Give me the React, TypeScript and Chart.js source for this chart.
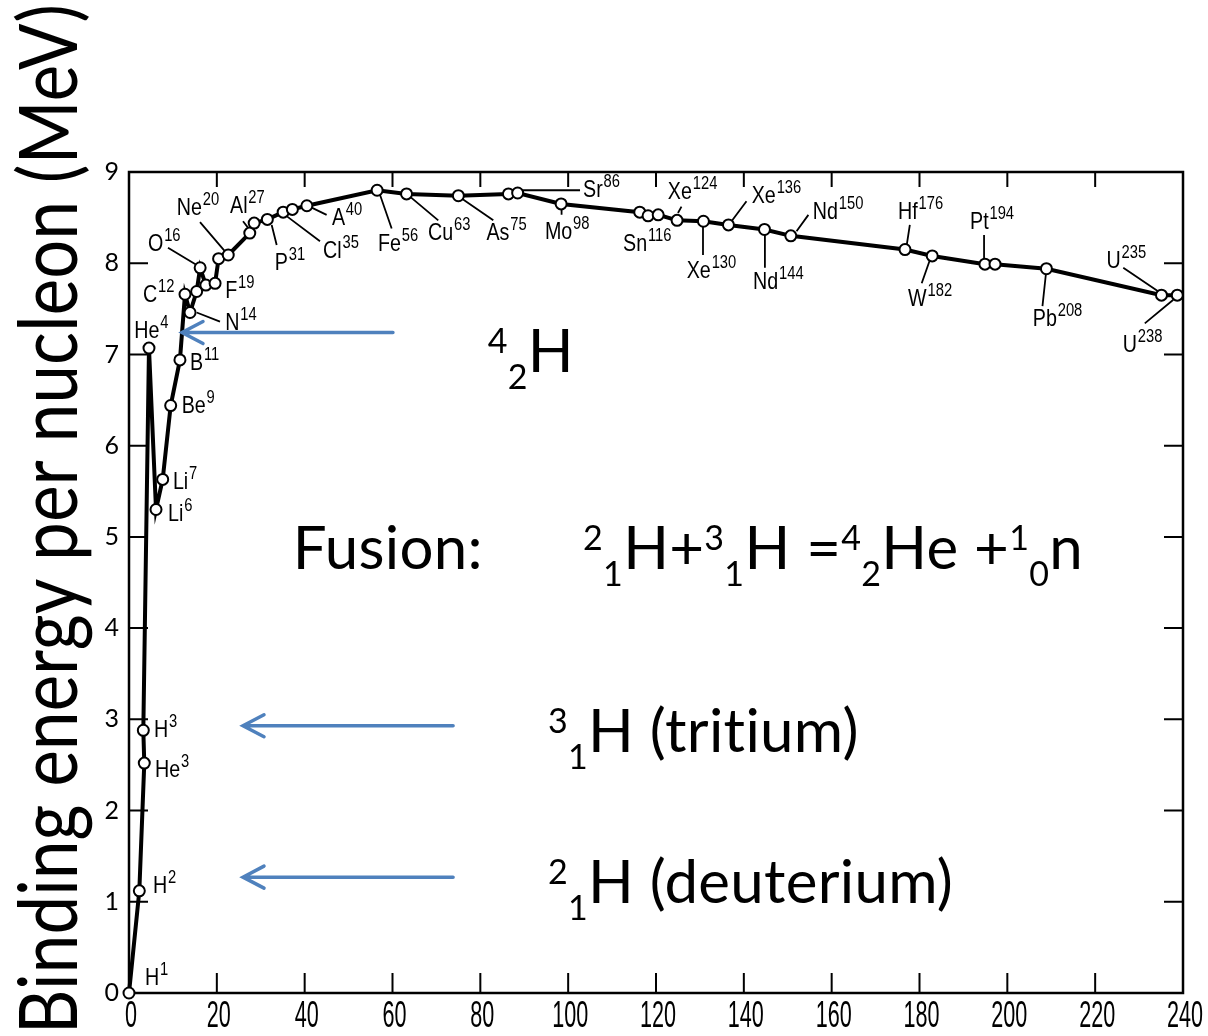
import React, { useEffect, useRef } from 'react';
import { Chart, registerables } from 'chart.js';

Chart.register(...registerables);

// ---------- data (mass number A, binding energy per nucleon in MeV) ----------
const massNumbers = [0, 2.35, 3.48, 3.26, 4.55, 6.15, 7.67, 9.49, 11.6, 12.75, 13.9, 15.4, 16.2, 17.5, 19.6, 20.4, 22.6, 27.5, 28.5, 31.5, 35.1, 37.2, 40.5, 56.5, 63.2, 75.0, 86.4, 88.5, 98.4, 116.3, 118.2, 120.5, 124.8, 130.8, 136.5, 144.7, 150.7, 176.7, 182.9, 194.9, 197.2, 208.9, 235.1, 238.7];
const bindingEnergy = [0, 1.12, 2.52, 2.88, 7.07, 5.30, 5.63, 6.44, 6.94, 7.66, 7.46, 7.69, 7.95, 7.76, 7.78, 8.05, 8.09, 8.33, 8.44, 8.48, 8.56, 8.59, 8.63, 8.80, 8.76, 8.74, 8.76, 8.77, 8.65, 8.56, 8.52, 8.53, 8.47, 8.46, 8.42, 8.37, 8.30, 8.15, 8.08, 7.99, 7.99, 7.94, 7.65, 7.65];

const X_TICK_LABELS = ['0', '20', '40', '60', '80', '100', '120', '140', '160', '180', '200', '220', '240'];
const Y_TICK_LABELS = ['0', '1', '2', '3', '4', '5', '6', '7', '8', '9'];

const Y_TITLE = 'Binding energy per nucleon (MeV)';

// nuclide labels
const labelElements = ['H', 'H', 'H', 'He', 'He', 'Li', 'Li', 'Be', 'B', 'C', 'N', 'O', 'F', 'Ne', 'Al', 'P', 'Cl', 'A', 'Fe', 'Cu', 'As', 'Sr', 'Mo', 'Sn', 'Xe', 'Xe', 'Xe', 'Nd', 'Nd', 'Hf', 'W', 'Pt', 'Pb', 'U', 'U'];
const labelMasses = ['1', '2', '3', '3', '4', '6', '7', '9', '11', '12', '14', '16', '19', '20', '27', '31', '35', '40', '56', '63', '75', '86', '98', '116', '124', '130', '136', '144', '150', '176', '182', '194', '208', '235', '238'];

// label anchors (data coordinates: left of text, baseline)
const labelPosX = [3.64, 5.46, 5.69, 5.92, 1.21, 8.88, 10.0, 12.0, 13.9, 3.19, 21.9, 4.33, 21.9, 10.9, 23.0, 33.2, 44.2, 46.2, 56.7, 68.1, 81.4, 103.4, 94.7, 112.5, 122.7, 127.0, 141.8, 142.1, 155.7, 175.1, 177.4, 191.5, 205.8, 222.6, 226.3];
const labelPosY = [0.09, 1.10, 2.81, 2.37, 7.18, 5.17, 5.52, 6.36, 6.83, 7.57, 7.27, 8.13, 7.62, 8.53, 8.55, 7.93, 8.06, 8.42, 8.13, 8.25, 8.26, 8.73, 8.27, 8.13, 8.70, 7.84, 8.66, 7.72, 8.48, 8.48, 7.53, 8.37, 7.31, 7.95, 7.03];

// leader lines (data coordinates x1, y1, x2, y2)
const leaderLines = [
  [8.88, 8.17, 15.41, 7.98],
  [16.17, 8.45, 21.86, 8.13],
  [25.96, 8.46, 27.09, 8.39],
  [15.41, 7.46, 20.72, 7.36],
  [32.49, 8.42, 33.63, 8.20],
  [35.52, 8.53, 43.49, 8.24],
  [41.6, 8.61, 45.0, 8.53],
  [57.15, 8.75, 59.81, 8.38],
  [63.98, 8.73, 70.42, 8.47],
  [75.75, 8.71, 82.95, 8.47],
  [98.5, 8.62, 98.5, 8.53],
  [89.4, 8.80, 102.7, 8.80],
  [125.0, 8.55, 125.8, 8.62],
  [130.7, 8.46, 130.7, 8.09],
  [137.2, 8.46, 140.6, 8.68],
  [144.8, 8.33, 144.8, 7.95],
  [152.0, 8.35, 154.7, 8.53],
  [177.1, 8.20, 177.8, 8.42],
  [182.4, 8.04, 180.5, 7.78],
  [194.7, 8.04, 194.7, 8.31],
  [208.8, 7.89, 208.0, 7.53],
  [234.4, 7.69, 226.4, 7.95],
  [237.8, 7.60, 231.3, 7.34],
];

// blue arrows (tail x, tail y, tip x, tip y) in data coordinates
const arrows = [
  [60.1, 7.24, 12.07, 7.24],
  [73.8, 2.93, 25.96, 2.93],
  [73.8, 1.27, 25.96, 1.27],
];

// rich annotation texts: runs of [text, kind] with kind 0 normal, 1 sup, 2 sub
const annoTexts = [
  { x: 81.7, y: 6.81, runs: [['4', 1], ['2', 2], ['H', 0]] },
  { x: 37.3, y: 4.65, runs: [['Fusion:', 0]] },
  { x: 103.4, y: 4.65, runs: [['2', 1], ['1', 2], ['H+', 0], ['3', 1], ['1', 2], ['H =', 0], ['4', 1], ['2', 2], ['He +', 0], ['1', 1], ['0', 2], ['n', 0]] },
  { x: 95.4, y: 2.64, runs: [['3', 1], ['1', 2], ['H (tritium)', 0]] },
  { x: 95.4, y: 0.99, runs: [['2', 1], ['1', 2], ['H (deuterium)', 0]] },
];

const BIG_FONT = '60px Lato, "Open Sans", sans-serif';
const SMALL_FONT = '34px Lato, "Open Sans", sans-serif';
const LABEL_FONT = '24px "Liberation Sans", Arial, sans-serif';
const LABEL_SUP_FONT = '18px "Liberation Sans", Arial, sans-serif';
const XTICK_FONT = '36px "Liberation Sans", Arial, sans-serif';

const annotPlugin = {
  id: 'annot',
  beforeDatasetsDraw(chart: any) {
    const { ctx, chartArea: a, scales } = chart;
    const xs = scales.x;
    const ys = scales.y;
    ctx.save();
    ctx.strokeStyle = '#000';
    ctx.lineWidth = 2.5;
    ctx.strokeRect(a.left, a.top, a.right - a.left, a.bottom - a.top);
    ctx.lineWidth = 2;
    ctx.beginPath();
    xs.ticks.forEach((t: any) => {
      if (t.value <= 0 || t.value >= 240) return;
      const px = xs.getPixelForValue(t.value);
      ctx.moveTo(px, a.bottom);
      ctx.lineTo(px, a.bottom - 20);
      ctx.moveTo(px, a.top);
      ctx.lineTo(px, a.top + 15);
    });
    ys.ticks.forEach((t: any) => {
      if (t.value <= 0 || t.value >= 9) return;
      const py = ys.getPixelForValue(t.value);
      ctx.moveTo(a.left, py);
      ctx.lineTo(a.left + 19, py);
      ctx.moveTo(a.right, py);
      ctx.lineTo(a.right - 19, py);
    });
    ctx.stroke();
    ctx.lineWidth = 1.8;
    ctx.beginPath();
    leaderLines.forEach((l) => {
      ctx.moveTo(xs.getPixelForValue(l[0]), ys.getPixelForValue(l[1]));
      ctx.lineTo(xs.getPixelForValue(l[2]), ys.getPixelForValue(l[3]));
    });
    ctx.stroke();
    ctx.restore();
  },
  afterDatasetsDraw(chart: any) {
    const { ctx, scales } = chart;
    const xs = scales.x;
    const ys = scales.y;
    ctx.save();
    ctx.fillStyle = '#000';
    ctx.textBaseline = 'alphabetic';
    ctx.textAlign = 'left';

    // x tick labels (condensed)
    xs.ticks.forEach((t: any, i: number) => {
      const px = xs.getPixelForValue(t.value) + 2;
      ctx.save();
      ctx.translate(px, 1027);
      ctx.scale(0.6, 1);
      ctx.font = XTICK_FONT;
      ctx.textAlign = 'center';
      ctx.fillText(X_TICK_LABELS[i] ?? '', 0, 0);
      ctx.restore();
    });

    // nuclide labels
    labelElements.forEach((el, i) => {
      const px = xs.getPixelForValue(labelPosX[i]);
      const py = ys.getPixelForValue(labelPosY[i]);
      ctx.save();
      ctx.translate(px, py);
      ctx.scale(0.82, 1);
      ctx.font = LABEL_FONT;
      ctx.fillText(el, 0, 0);
      const w = ctx.measureText(el).width;
      ctx.font = LABEL_SUP_FONT;
      ctx.fillText(labelMasses[i], w + 1, -10);
      ctx.restore();
    });

    // blue arrows
    ctx.strokeStyle = '#4F81BD';
    ctx.lineWidth = 3.5;
    ctx.lineCap = 'round';
    arrows.forEach((ar) => {
      const x1 = xs.getPixelForValue(ar[0]);
      const y1 = ys.getPixelForValue(ar[1]);
      const x2 = xs.getPixelForValue(ar[2]);
      const y2 = ys.getPixelForValue(ar[3]);
      ctx.beginPath();
      ctx.moveTo(x1, y1);
      ctx.lineTo(x2, y2);
      ctx.moveTo(x2 + 21, y2 - 11);
      ctx.lineTo(x2, y2);
      ctx.lineTo(x2 + 21, y2 + 11);
      ctx.stroke();
    });

    // rich texts
    try {
      (ctx as any).letterSpacing = '0.3px';
    } catch (e) {
      /* ignore */
    }
    annoTexts.forEach((a) => {
      let x = xs.getPixelForValue(a.x);
      const y = ys.getPixelForValue(a.y);
      a.runs.forEach((r: any) => {
        const [text, kind] = r;
        ctx.font = kind === 0 ? BIG_FONT : SMALL_FONT;
        const dy = kind === 1 ? -19 : kind === 2 ? 17 : 0;
        ctx.fillText(text, x, y + dy);
        x += ctx.measureText(text).width;
      });
    });

    // y axis title (rotated)
    ctx.save();
    ctx.translate(77, 1034);
    ctx.rotate(-Math.PI / 2);
    ctx.font = '82px Lato, "Open Sans", sans-serif';
    const tw = ctx.measureText(Y_TITLE).width;
    ctx.scale(1030 / tw, 1);
    ctx.fillText(Y_TITLE, 0, 0);
    ctx.restore();

    ctx.restore();
  },
};

export default function App() {
  const ref = useRef<HTMLCanvasElement | null>(null);
  useEffect(() => {
    if (!ref.current) return;
    const chart = new Chart(ref.current, {
      type: 'scatter',
      data: {
        datasets: [
          {
            data: massNumbers.map((x, i) => ({ x, y: bindingEnergy[i] })),
            showLine: true,
            borderColor: '#000',
            borderWidth: 4,
            pointRadius: 5.5,
            pointBorderWidth: 2,
            pointBackgroundColor: '#fff',
            pointBorderColor: '#000',
            tension: 0,
            clip: false,
          } as any,
        ],
      },
      options: {
        responsive: false,
        animation: false,
        devicePixelRatio: 1,
        events: [],
        layout: { padding: { left: 0, top: 172, right: 25, bottom: 0 } },
        plugins: { legend: { display: false }, tooltip: { enabled: false } },
        scales: {
          x: {
            type: 'linear',
            min: 0,
            max: 240,
            ticks: { stepSize: 20, display: false },
            grid: { display: false, drawTicks: false },
            border: { display: false },
            afterFit: (s: any) => {
              s.height = 43;
            },
          } as any,
          y: {
            type: 'linear',
            min: 0,
            max: 9,
            ticks: {
              stepSize: 1,
              color: '#000',
              padding: 10,
              font: { family: 'Lato, "Open Sans", sans-serif', size: 25 },
              callback: (_v: any, i: number) => Y_TICK_LABELS[i],
            },
            grid: { display: false, drawTicks: false },
            border: { display: false },
            afterFit: (s: any) => {
              s.width = 129;
            },
          } as any,
        },
      },
      plugins: [annotPlugin],
    });
    let alive = true;
    if ((document as any).fonts && (document as any).fonts.ready) {
      (document as any).fonts.ready.then(() => {
        if (alive) chart.update();
      });
    }
    return () => {
      alive = false;
      chart.destroy();
    };
  }, []);
  return (
    <div style={{ position: 'absolute', left: 0, top: 0, width: 1208, height: 1036, background: '#fff' }}>
      <canvas ref={ref} width={1208} height={1036} style={{ display: 'block', width: 1208, height: 1036 }} />
    </div>
  );
}
